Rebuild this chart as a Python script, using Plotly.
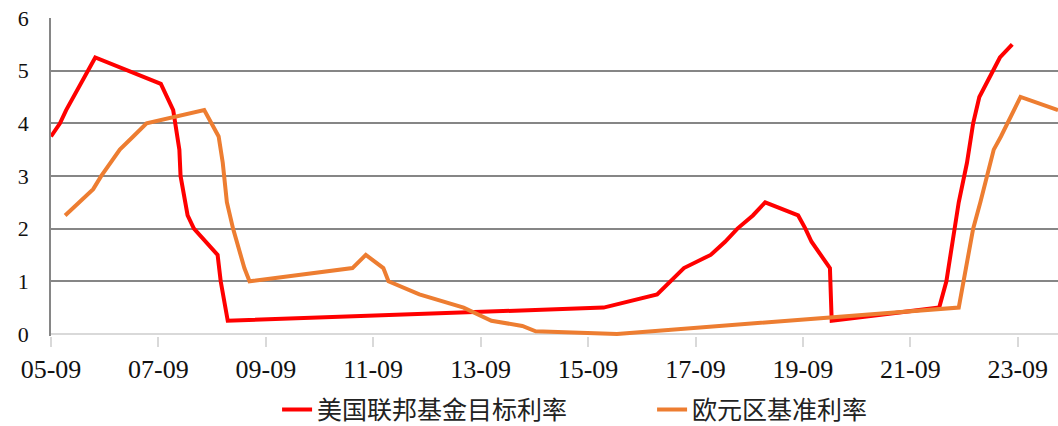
import plotly.graph_objects as go

# 美国联邦基金目标利率
us_dates = ["2005-09-01", "2005-11-01", "2005-12-13", "2006-01-31", "2006-03-28", "2006-05-10",
            "2006-06-29", "2007-09-18", "2007-10-31", "2007-12-11", "2008-01-22", "2008-01-30",
            "2008-03-18", "2008-04-30", "2008-10-08", "2008-10-29", "2008-12-16", "2015-12-16",
            "2016-12-14", "2017-03-15", "2017-06-14", "2017-12-13", "2018-03-21", "2018-06-13",
            "2018-09-26", "2018-12-19", "2019-07-31", "2019-09-18", "2019-10-30", "2020-03-03",
            "2020-03-15", "2022-03-16", "2022-05-04", "2022-06-15", "2022-07-27", "2022-09-21",
            "2022-11-02", "2022-12-14", "2023-02-01", "2023-03-22", "2023-05-03", "2023-07-26"]
us_rate = [3.75, 4.0, 4.25, 4.5, 4.75, 5.0,
           5.25, 4.75, 4.5, 4.25, 3.5, 3.0,
           2.25, 2.0, 1.5, 1.0, 0.25, 0.5,
           0.75, 1.0, 1.25, 1.5, 1.75, 2.0,
           2.25, 2.5, 2.25, 2.0, 1.75, 1.25,
           0.25, 0.5, 1.0, 1.75, 2.5, 3.25,
           4.0, 4.5, 4.75, 5.0, 5.25, 5.5]

# 欧元区基准利率
ez_dates = ["2005-12-06", "2006-03-08", "2006-06-15", "2006-08-09", "2006-10-11", "2006-12-13",
            "2007-03-14", "2007-06-13", "2008-07-09", "2008-10-15", "2008-11-12", "2008-12-10",
            "2009-01-21", "2009-03-11", "2009-04-08", "2009-05-13", "2011-04-13", "2011-07-13",
            "2011-11-09", "2011-12-14", "2012-07-11", "2013-05-08", "2013-11-13", "2014-06-11",
            "2014-09-10", "2016-03-16", "2022-07-27", "2022-09-14", "2022-11-02", "2022-12-21",
            "2023-02-08", "2023-03-22", "2023-05-10", "2023-06-21", "2023-08-02", "2023-09-20",
            "2024-06-01"]
ez_rate = [2.25, 2.5, 2.75, 3.0, 3.25, 3.5,
           3.75, 4.0, 4.25, 3.75, 3.25, 2.5,
           2.0, 1.5, 1.25, 1.0, 1.25, 1.5,
           1.25, 1.0, 0.75, 0.5, 0.25, 0.15,
           0.05, 0.0, 0.5, 1.25, 2.0, 2.5,
           3.0, 3.5, 3.75, 4.0, 4.25, 4.5,
           4.25]

x_tickvals = ["2005-09-01", "2007-09-01", "2009-09-01", "2011-09-01", "2013-09-01",
              "2015-09-01", "2017-09-01", "2019-09-01", "2021-09-01", "2023-09-01"]
x_ticktext = ["05-09", "07-09", "09-09", "11-09", "13-09",
              "15-09", "17-09", "19-09", "21-09", "23-09"]
y_tickvals = [0, 1, 2, 3, 4, 5, 6]

serif = "Liberation Serif"
cjk = "Noto Sans CJK SC"

fig = go.Figure()
fig.add_trace(go.Scatter(x=us_dates, y=us_rate, mode="lines", name="美国联邦基金目标利率",
                         line=dict(color="#FF0000", width=4)))
fig.add_trace(go.Scatter(x=ez_dates, y=ez_rate, mode="lines", name="欧元区基准利率",
                         line=dict(color="#ED7D31", width=4)))

fig.update_layout(
    width=1058, height=426,
    margin=dict(l=51, r=0, t=18, b=90),
    paper_bgcolor="white", plot_bgcolor="white",
    showlegend=True,
    legend=dict(orientation="h", x=0.2245, xanchor="left", yref="container", y=0.038,
                yanchor="middle", font=dict(family=cjk, size=25, color="#222"),
                traceorder="normal", entrywidth=330),
    xaxis=dict(type="date", range=["2005-09-01", "2024-06-01"], automargin=False,
               tickvals=x_tickvals, ticktext=x_ticktext,
               showgrid=False, showline=False, zeroline=False,
               ticks="outside", ticklen=10, tickwidth=2, tickcolor="#d9d9d9",
               tickfont=dict(family=serif, size=26, color="#111")),
    yaxis=dict(range=[-0.04, 6.0], tickvals=y_tickvals, automargin=False,
               showgrid=True, gridcolor="#868686", gridwidth=1.5,
               zeroline=True, zerolinecolor="#d9d9d9", zerolinewidth=2,
               showline=True, linecolor="#868686", linewidth=1.5,
               ticks="", ticklabelstandoff=16,
               tickfont=dict(family=serif, size=22, color="#111")),
)

fig.write_html("out.html", config={"displayModeBar": False},
               post_script="document.body.style.margin='0';document.body.style.padding='0';")
